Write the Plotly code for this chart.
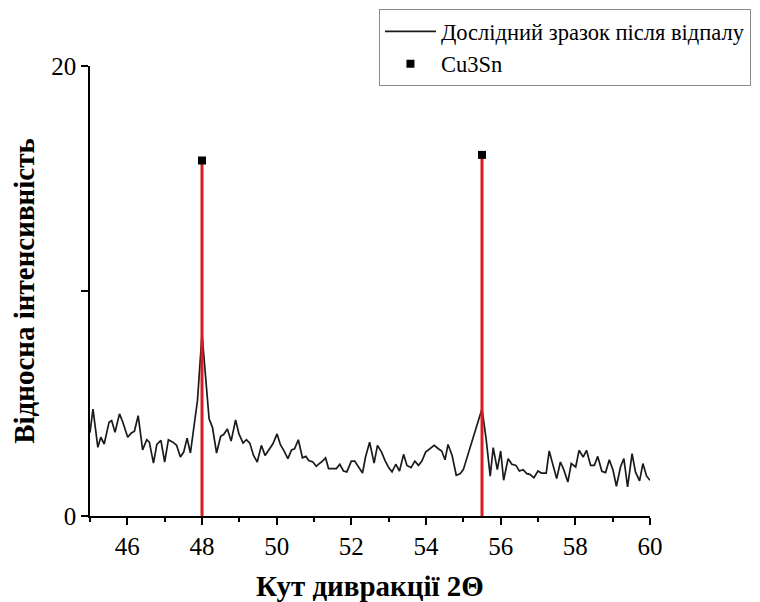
import plotly.graph_objects as go

angle = [45.0, 45.08, 45.21, 45.29, 45.38, 45.51, 45.58, 45.67, 45.79, 45.88, 46.01, 46.10, 46.19, 46.29,
         46.41, 46.52, 46.59, 46.70, 46.79, 46.90, 47.00, 47.10, 47.22, 47.32, 47.42, 47.51, 47.60, 47.69,
         47.79, 47.88, 48.0, 48.19, 48.28, 48.39, 48.50, 48.58, 48.68, 48.78, 48.90, 48.99, 49.10, 49.19,
         49.28, 49.38, 49.48, 49.59, 49.69, 49.79, 49.90, 50.01, 50.10, 50.19, 50.30, 50.40, 50.48, 50.58,
         50.69, 50.78, 50.86, 50.97, 51.06, 51.14, 51.20, 51.31, 51.39, 51.51, 51.60, 51.69, 51.79, 51.88,
         52.00, 52.09, 52.18, 52.30, 52.38, 52.49, 52.61, 52.70, 52.81, 52.90, 53.00, 53.09, 53.19, 53.29,
         53.40, 53.49, 53.60, 53.70, 53.80, 53.89, 53.99, 54.11, 54.22, 54.33, 54.42, 54.51, 54.59, 54.70,
         54.81, 54.91, 55.00, 55.5, 55.61, 55.72, 55.80, 55.91, 56.00, 56.08, 56.20, 56.30, 56.41, 56.50,
         56.60, 56.70, 56.78, 56.89, 57.00, 57.09, 57.22, 57.30, 57.38, 57.50, 57.60, 57.69, 57.80, 57.89,
         58.01, 58.10, 58.21, 58.30, 58.41, 58.51, 58.60, 58.71, 58.81, 58.91, 59.01, 59.10, 59.21, 59.30,
         59.40, 59.52, 59.61, 59.72, 59.81, 59.91, 60.0]
intensity = [3.7, 4.75, 3.05, 3.5, 3.2, 4.17, 4.24, 3.72, 4.54, 4.17, 3.5, 3.68, 3.77, 4.46,
             2.94, 3.39, 3.28, 2.35, 3.18, 3.36, 2.4, 3.39, 3.28, 3.14, 2.62, 2.84, 3.46, 2.8,
             4.04, 5.15, 8.1, 4.32, 3.94, 2.8, 3.54, 3.62, 3.87, 3.33, 4.27, 3.65, 3.24, 3.39,
             3.24, 2.69, 2.4, 3.14, 2.69, 2.92, 3.21, 3.65, 3.17, 2.92, 2.55, 2.94, 2.99, 3.39,
             2.59, 2.65, 2.47, 2.4, 2.21, 2.33, 2.4, 2.58, 2.11, 2.11, 2.11, 2.3, 2.0, 1.96,
             2.44, 2.44, 2.21, 1.91, 2.62, 3.28, 2.35, 3.14, 2.84, 2.47, 2.15, 1.96, 2.3, 2.0,
             2.74, 2.25, 2.15, 2.44, 2.25, 2.44, 2.84, 2.99, 3.14, 2.99, 2.89, 2.5, 3.18, 2.69,
             1.81, 1.88, 2.06, 4.77, 3.43, 1.77, 3.04, 2.06, 2.89, 1.59, 2.55, 2.3, 2.25, 2.0,
             2.06, 1.88, 1.85, 1.7, 2.0, 1.91, 1.91, 2.89, 2.35, 1.66, 2.4, 2.06, 1.51, 2.33,
             2.18, 2.92, 2.62, 2.92, 2.25, 2.25, 2.65, 1.99, 1.93, 2.5, 2.03, 1.32, 2.18, 2.55,
             1.29, 2.77, 1.96, 1.56, 2.33, 1.77, 1.59]

phase_angle = [48.0, 55.5]
phase_intensity = [15.8, 16.05]

series_name = "Дослідний зразок після відпалу"
phase_name = "Cu3Sn"
x_title = "Кут дивракції 2Θ"
y_title = "Відносна інтенсивність"
x_ticks = [46, 48, 50, 52, 54, 56, 58, 60]
x_minor = [45, 47, 49, 51, 53, 55, 57, 59]
y_ticks = [0, 10, 20]
y_tick_labels = ["0", "", "20"]

FONT = "Liberation Serif"

stem_x, stem_y = [], []
for a, v in zip(phase_angle, phase_intensity):
    stem_x += [a, a, None]
    stem_y += [0, v, None]

fig = go.Figure()
fig.add_trace(go.Scatter(x=angle, y=intensity, mode="lines", name=series_name,
                         line=dict(color="#1a1a1a", width=1.7)))
fig.add_trace(go.Scatter(x=stem_x, y=stem_y, mode="lines", showlegend=False,
                         line=dict(color="#d81e1e", width=3), hoverinfo="skip"))
fig.add_trace(go.Scatter(x=phase_angle, y=phase_intensity, mode="markers", name=phase_name,
                         marker=dict(symbol="square", color="black", size=8)))

fig.update_layout(
    width=752, height=594,
    margin=dict(l=82.4, r=110, t=57.7, b=86.3, autoexpand=False),
    paper_bgcolor="white", plot_bgcolor="white",
    font=dict(family=FONT, size=22, color="black"),
    showlegend=True,
    legend=dict(x=0.516, y=1.126, xanchor="left", yanchor="top",
                bordercolor="#8a8a8a", borderwidth=1, bgcolor="white",
                font=dict(family=FONT, size=22.5, color="black"),
                tracegroupgap=0, itemwidth=51),
    xaxis=dict(range=[45, 60], tickvals=x_ticks, ticks="outside", ticklen=7, tickwidth=1.5,
               tickcolor="black", showline=True, linecolor="black", linewidth=1.5,
               showgrid=False, zeroline=False,
               minor=dict(tickvals=x_minor, ticks="outside", ticklen=4,
                          tickcolor="black", tickwidth=1.5),
               tickfont=dict(family=FONT, size=25),
               title=dict(text="<b>" + x_title + "</b>", font=dict(family=FONT, size=29), standoff=20)),
    yaxis=dict(range=[0, 20], tickvals=y_ticks, ticktext=y_tick_labels, ticks="outside", ticklen=7,
               tickwidth=1.5, tickcolor="black", showline=True, linecolor="black", linewidth=1.5,
               showgrid=False, zeroline=False,
               tickfont=dict(family=FONT, size=25),
               title=dict(text="<b>" + y_title + "</b>", font=dict(family=FONT, size=29), standoff=12)),
)

fig.write_html("out.html")
